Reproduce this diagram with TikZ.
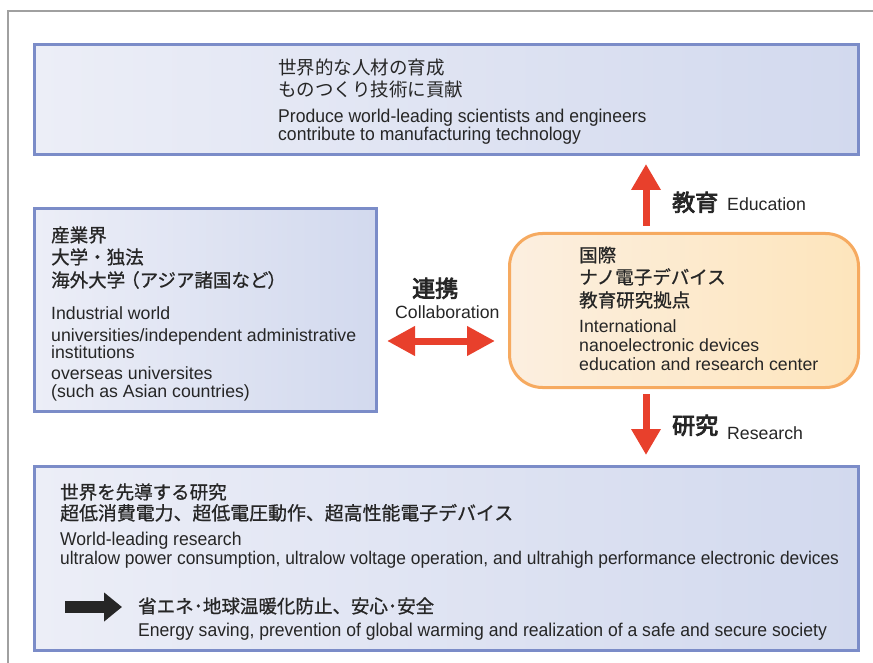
\documentclass[tikz,border=0pt]{standalone}
\usepackage{fontspec}
\setmainfont{Liberation Sans}
\newfontfamily\jp{Noto Sans CJK JP}
\newfontfamily\jpmid[FakeBold=0.8]{Noto Sans CJK JP}
\newfontfamily\jpheavy[FakeBold=3.5]{Noto Sans CJK JP}
\newfontfamily\narrow[FakeStretch=0.95]{Liberation Sans}
\usepackage{tikz}
\usetikzlibrary{arrows.meta}
\usetikzlibrary{positioning}
\usetikzlibrary{calc}

\definecolor{boxblue}{HTML}{7B8CC8}
\definecolor{boxshade}{HTML}{D2D9EE}
\definecolor{boxtint}{HTML}{ECEEF7}
\definecolor{hubline}{HTML}{F6AA60}
\definecolor{hubshade}{HTML}{FDE5BC}
\definecolor{hubtint}{HTML}{FCEFE0}
\definecolor{arrowred}{HTML}{E8402C}
\definecolor{framegray}{HTML}{A0A0A0}
\definecolor{inkdark}{HTML}{262626}

\tikzset{
  bluebox/.style={draw=boxblue, line width=3pt, left color=boxtint, middle color=white, right color=boxshade, inner sep=0pt},
  hubbox/.style={draw=hubline, line width=3pt, rounded corners=33pt, left color=hubtint, middle color=white!60!hubtint, right color=hubshade, inner sep=0pt},
  jpline/.style={anchor=base west, inner sep=0pt, text=inkdark, font=\jp\fontsize{18.5}{22}\selectfont},
  jpmidline/.style={anchor=base west, inner sep=0pt, text=inkdark, font=\jpmid\fontsize{18.5}{22}\selectfont},
  enline/.style={anchor=base west, inner sep=0pt, text=inkdark, font=\fontsize{17.7}{20}\selectfont},
  narrowline/.style={anchor=base west, inner sep=0pt, text=inkdark, font=\narrow\fontsize{18.5}{20}\selectfont},
  tag/.style={anchor=base west, inner sep=0pt, text=inkdark, font=\jpheavy\fontsize{23}{26}\selectfont},
  redarrow/.style={draw=arrowred, line width=7pt, -{Triangle[length=26pt, width=28pt]}},
  twoway/.style={draw=arrowred, line width=7pt, {Triangle[length=28pt, width=28pt]}-{Triangle[length=28pt, width=28pt]}},
  blackarrow/.style={draw=inkdark, line width=12pt, -{Triangle[length=18pt, width=28pt]}}
}

\begin{document}
\begin{tikzpicture}[x=1pt, y=-1pt]
    \useasboundingbox (0,0) rectangle (873,663);
    % frame
    \draw[framegray, line width=1.5pt] (8,663) -- (8,11) -- (873,11);

    % boxes
    \node[bluebox, minimum width=824pt, minimum height=110pt] at (446.5, 99.5) (goal) {};
    \node[bluebox, minimum width=342pt, minimum height=203pt] at (205.5, 310) (industry) {};
    \node[hubbox, minimum width=349pt, minimum height=154pt] at (684, 310.5) (hub) {};
    \node[bluebox, minimum width=824pt, minimum height=184pt] at (446.5, 558.5) (research) {};

    % top box text
    \node[jpline] at (278, 75) (goal1) {世界的な人材の育成};
    \node[jpline] at (278, 97) (goal2) {ものつくり技術に貢献};
    \node[narrowline] at (278, 123) (goal3) {Produce world-leading scientists and engineers};
    \node[narrowline] at (278, 141) (goal4) {contribute to manufacturing technology};

    % left box text
    \node[jpmidline] at (51, 242) (ind1) {産業界};
    \node[jpmidline] at (51, 264) (ind2) {大学・独法};
    \node[jpmidline] at (51, 287) (ind3) {海外大学\kern-4pt（アジア諸国など\kern-1pt）};
    \node[enline] at (51, 319) (ind4) {Industrial world};
    \node[enline] at (51, 341) (ind5) {universities/independent administrative};
    \node[enline] at (51, 358) (ind6) {institutions};
    \node[enline] at (51, 379) (ind7) {overseas universites};
    \node[enline] at (51, 397) (ind8) {(such as Asian countries)};

    % centre box text
    \node[jpmidline] at (579, 262) (hub1) {国際};
    \node[jpmidline] at (579, 284) (hub2) {ナノ電子デバイス};
    \node[jpmidline] at (579, 307) (hub3) {教育研究拠点};
    \node[enline] at (579, 332) (hub4) {International};
    \node[enline] at (579, 351) (hub5) {nanoelectronic devices};
    \node[enline] at (579, 370) (hub6) {education and research center};

    % bottom box text
    \node[jpmidline] at (60, 499) (res1) {世界を先導する研究};
    \node[jpmidline, font=\jpmid\fontsize{18.9}{22}\selectfont] at (60, 520) (res2) {超低消費電力、超低電圧動作、超高性能電子デバイス};
    \node[narrowline] at (60, 545) (res3) {World-leading research};
    \node[narrowline, font=\narrow\fontsize{18.3}{20}\selectfont] at (60, 564) (res4) {ultralow power consumption, ultralow voltage operation, and ultrahigh performance electronic devices};
    \node[jpmidline] at (138, 613) (res5) {省エネ･地球温暖化防止、安心･安全};
    \node[narrowline] at (138, 636) (res6) {Energy saving, prevention of global warming and realization of a safe and secure society};
    \draw[blackarrow] (65, 607) -- (122, 607);

    % arrows
    \draw[redarrow, shorten <=6pt, shorten >=8pt] ([xshift=-38pt]hub.north) -- ([xshift=-38pt]hub.north |- goal.south);
    \draw[redarrow, shorten <=5pt, shorten >=10pt] ([xshift=-38pt]hub.south) -- ([xshift=-38pt]hub.south |- research.north);
    \draw[twoway, shorten <=9pt, shorten >=13pt] ([yshift=-31pt]industry.east) -- ([yshift=-31pt]industry.east -| hub.west);

    % arrow labels
    \node[tag] at (672, 211) (edu) {教育};
    \node[enline] at (727, 211) (eduen) {Education};
    \node[tag] at (412, 297) (collab) {連携};
    \node[enline] at (395, 318) (collaben) {Collaboration};
    \node[tag] at (672, 434) (res) {研究};
    \node[enline] at (727, 439) (resen) {Research};
\end{tikzpicture}
\end{document}
